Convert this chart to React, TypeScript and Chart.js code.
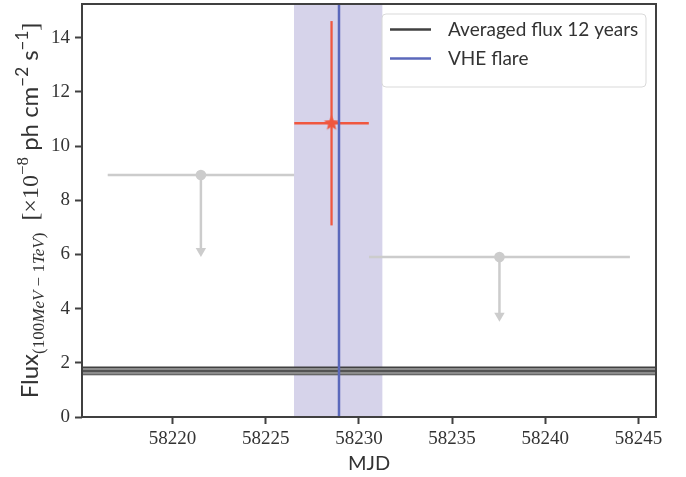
import React, { useEffect, useRef } from 'react';
import { Chart, registerables } from 'chart.js';

Chart.register(...registerables);

// ---- axes ----
const xTicks = [58220, 58225, 58230, 58235, 58240, 58245];
const yTicks = [0, 2, 4, 6, 8, 10, 12, 14];
const xRange = [58215.14, 58245.94];
const yRange = [0, 15.24];

// ---- VHE flare ----
const flareTime = 58228.93;
const flareWindow = [58226.51, 58231.27];

// ---- averaged flux (12 years) ----
const avgFlux = 1.7;
const avgFluxErr = 0.135;

// ---- detection ----
const detX = [58228.53];
const detXErr = [2.0];
const detY = [10.84];
const detYErr = [3.77];

// ---- upper limits ----
const ulX = [58221.52, 58237.54];
const ulXErr = [5.0, 7.0];
const ulY = [8.93, 5.9];
const ulArrowEnd = [6.13, 3.74];

const legendLabels = ['Averaged flux 12 years', 'VHE flare'];

const C_RED = '#f0573f';
const C_BLUE = '#5b68bb';
const C_BAND = '#d6d3ea';
const C_GRAY = '#cccccc';
const C_DARK = '#404040';
const C_TEXT = '#333333';

function makeStar(color: string, r: number) {
  const size = Math.ceil(r * 2 + 2);
  const c = document.createElement('canvas');
  c.width = size;
  c.height = size;
  const g = c.getContext('2d')!;
  g.fillStyle = color;
  g.beginPath();
  for (let i = 0; i < 10; i++) {
    const rr = i % 2 === 0 ? r : r * 0.45;
    const a = -Math.PI / 2 + (i * Math.PI) / 5;
    g.lineTo(size / 2 + rr * Math.cos(a), size / 2 + rr * Math.sin(a));
  }
  g.closePath();
  g.fill();
  return c;
}

const framePlugin = {
  id: 'frame',
  afterDraw(chart: any) {
    const { ctx, chartArea: a } = chart;
    ctx.save();
    ctx.strokeStyle = C_DARK;
    ctx.lineWidth = 2;
    ctx.strokeRect(a.left, a.top, a.right - a.left, a.bottom - a.top);
    ctx.restore();
  },
};

const yTitlePlugin = {
  id: 'yTitle',
  afterDraw(chart: any) {
    const { ctx, chartArea: a } = chart;
    const big = 24;
    const small = 17;
    const sans = 'Lato';
    const serif = '"Liberation Serif"';
    const sub = 6;
    const sup = -10;
    const runs = [
      { t: 'Flux', f: `${big}px ${sans}`, dy: 0 },
      { t: '(100', f: `${small}px ${serif}`, dy: sub },
      { t: 'MeV', f: `italic ${small}px ${serif}`, dy: sub },
      { t: ' \u2212 1', f: `${small}px ${serif}`, dy: sub },
      { t: 'TeV', f: `italic ${small}px ${serif}`, dy: sub },
      { t: ')', f: `${small}px ${serif}`, dy: sub },
      { t: '  [\u00d710', f: `${big}px ${serif}`, dy: 0 },
      { t: '\u22128', f: `${small}px ${serif}`, dy: sup },
      { t: ' ph cm', f: `${big}px ${sans}`, dy: 0 },
      { t: '\u22122', f: `${small}px ${sans}`, dy: sup },
      { t: ' s', f: `${big}px ${sans}`, dy: 0 },
      { t: '\u22121', f: `${small}px ${sans}`, dy: sup },
      { t: ']', f: `${big}px ${serif}`, dy: 0 },
    ];
    ctx.save();
    let total = 0;
    const widths = runs.map((r) => {
      ctx.font = r.f;
      const w = ctx.measureText(r.t).width;
      total += w;
      return w;
    });
    const cy = (a.top + a.bottom) / 2;
    const baseX = 38;
    ctx.translate(baseX, cy);
    ctx.rotate(-Math.PI / 2);
    ctx.fillStyle = C_TEXT;
    ctx.textBaseline = 'alphabetic';
    ctx.textAlign = 'left';
    let x = -total / 2;
    runs.forEach((r, i) => {
      ctx.font = r.f;
      ctx.fillText(r.t, x, r.dy);
      x += widths[i];
    });
    ctx.restore();
  },
};

const legendPlugin = {
  id: 'customLegend',
  afterDraw(chart: any) {
    const { ctx, chartArea: a } = chart;
    const boxW = 264;
    const boxH = 73;
    const bx = a.right - 10 - boxW;
    const by = a.top + 10;
    const r = 4;
    ctx.save();
    ctx.beginPath();
    ctx.moveTo(bx + r, by);
    ctx.arcTo(bx + boxW, by, bx + boxW, by + boxH, r);
    ctx.arcTo(bx + boxW, by + boxH, bx, by + boxH, r);
    ctx.arcTo(bx, by + boxH, bx, by, r);
    ctx.arcTo(bx, by, bx + boxW, by, r);
    ctx.closePath();
    ctx.fillStyle = 'rgba(255,255,255,0.8)';
    ctx.fill();
    ctx.strokeStyle = '#d9d9d9';
    ctx.lineWidth = 1;
    ctx.stroke();
    const colors = [C_DARK, C_BLUE];
    const rowY = [by + 15.5, by + 44.5];
    legendLabels.forEach((lab, i) => {
      ctx.beginPath();
      ctx.strokeStyle = colors[i];
      ctx.lineWidth = 2.5;
      ctx.moveTo(bx + 8, rowY[i]);
      ctx.lineTo(bx + 49, rowY[i]);
      ctx.stroke();
      ctx.fillStyle = C_TEXT;
      ctx.font = '19px Lato';
      ctx.textBaseline = 'middle';
      ctx.textAlign = 'left';
      ctx.fillText(lab, bx + 66, rowY[i]);
    });
    ctx.restore();
  },
};

function lineDs(points: { x: number; y: number }[], color: string, width: number, order: number, extra: any = {}) {
  return {
    data: points,
    showLine: true,
    borderColor: color,
    borderWidth: width,
    pointRadius: 0,
    fill: false,
    tension: 0,
    order,
    ...extra,
  };
}

export default function App() {
  const ref = useRef<HTMLCanvasElement>(null);

  useEffect(() => {
    document.body.style.margin = '0';
    const canvas = ref.current!;
    const star = makeStar(C_RED, 8);
    const datasets: any[] = [];

    // flare window band
    datasets.push(
      lineDs(
        [
          { x: flareWindow[0], y: yRange[1] },
          { x: flareWindow[1], y: yRange[1] },
        ],
        'rgba(0,0,0,0)',
        0,
        50,
        { fill: 'origin', backgroundColor: C_BAND }
      )
    );

    // upper limits
    ulX.forEach((x, i) => {
      datasets.push(
        lineDs(
          [
            { x: x - ulXErr[i], y: ulY[i] },
            { x: x + ulXErr[i], y: ulY[i] },
          ],
          C_GRAY,
          2.5,
          40
        )
      );
      datasets.push(
        lineDs(
          [
            { x, y: ulY[i] },
            { x, y: ulArrowEnd[i] },
          ],
          C_GRAY,
          2.5,
          40
        )
      );
    });
    datasets.push({
      data: ulX.map((x, i) => ({ x, y: ulArrowEnd[i] })),
      showLine: false,
      pointStyle: 'triangle',
      pointRotation: 180,
      pointRadius: 6,
      pointBackgroundColor: C_GRAY,
      pointBorderWidth: 0,
      order: 39,
    });
    datasets.push({
      data: ulX.map((x, i) => ({ x, y: ulY[i] })),
      showLine: false,
      pointStyle: 'circle',
      pointRadius: 5.3,
      pointBackgroundColor: C_GRAY,
      pointBorderWidth: 0,
      order: 38,
    });

    // averaged flux band
    const lowIdx = datasets.length;
    datasets.push(
      lineDs(
        [
          { x: xRange[0], y: avgFlux - avgFluxErr },
          { x: xRange[1], y: avgFlux - avgFluxErr },
        ],
        C_DARK,
        1.5,
        30
      )
    );
    datasets.push(
      lineDs(
        [
          { x: xRange[0], y: avgFlux + avgFluxErr },
          { x: xRange[1], y: avgFlux + avgFluxErr },
        ],
        C_DARK,
        1.5,
        29,
        { fill: { target: lowIdx }, backgroundColor: '#8c8c8c' }
      )
    );
    datasets.push(
      lineDs(
        [
          { x: xRange[0], y: avgFlux },
          { x: xRange[1], y: avgFlux },
        ],
        C_DARK,
        1.5,
        28
      )
    );

    // detection
    detX.forEach((x, i) => {
      datasets.push(
        lineDs(
          [
            { x: x - detXErr[i], y: detY[i] },
            { x: x + detXErr[i], y: detY[i] },
          ],
          C_RED,
          2.3,
          20
        )
      );
      datasets.push(
        lineDs(
          [
            { x, y: detY[i] - detYErr[i] },
            { x, y: detY[i] + detYErr[i] },
          ],
          C_RED,
          2.3,
          20
        )
      );
    });
    datasets.push({
      data: detX.map((x, i) => ({ x, y: detY[i] })),
      showLine: false,
      pointStyle: star,
      pointRadius: 7,
      order: 19,
    });

    // VHE flare line
    datasets.push(
      lineDs(
        [
          { x: flareTime, y: yRange[0] },
          { x: flareTime, y: yRange[1] },
        ],
        C_BLUE,
        2.5,
        10
      )
    );

    const tickFont = { family: '"Liberation Serif"', size: 19 };

    const chart = new Chart(canvas, {
      type: 'line',
      data: { datasets },
      options: {
        responsive: false,
        animation: false,
        devicePixelRatio: 1,
        events: [],
        layout: { autoPadding: false, padding: { top: 4, right: 30, left: 0, bottom: 0 } },
        plugins: { legend: { display: false }, tooltip: { enabled: false } },
        scales: {
          x: {
            type: 'linear',
            min: xRange[0],
            max: xRange[1],
            afterBuildTicks: (s: any) => {
              s.ticks = xTicks.map((v) => ({ value: v }));
            },
            afterFit: (s: any) => {
              s.height = 60;
              s.paddingLeft = 0;
              s.paddingRight = 0;
            },
            ticks: {
              callback: (v: any) => String(v),
              font: tickFont,
              color: C_TEXT,
              padding: 4,
              maxRotation: 0,
              autoSkip: false,
            },
            grid: {
              drawOnChartArea: false,
              drawTicks: true,
              tickLength: 7,
              tickWidth: 2,
              tickColor: C_DARK,
            },
            border: { display: false },
            title: {
              display: true,
              text: 'MJD',
              font: { family: 'Lato', size: 20 },
              color: C_TEXT,
              padding: { top: 0, bottom: 1 },
            },
          },
          y: {
            type: 'linear',
            min: yRange[0],
            max: yRange[1],
            afterBuildTicks: (s: any) => {
              s.ticks = yTicks.map((v) => ({ value: v }));
            },
            afterFit: (s: any) => {
              s.width = 82;
              s.paddingTop = 0;
              s.paddingBottom = 0;
            },
            ticks: {
              callback: (v: any) => String(v),
              font: tickFont,
              color: C_TEXT,
              padding: 5,
              autoSkip: false,
            },
            grid: {
              drawOnChartArea: false,
              drawTicks: true,
              tickLength: 7,
              tickWidth: 2,
              tickColor: C_DARK,
            },
            border: { display: false },
          },
        },
      } as any,
      plugins: [framePlugin, yTitlePlugin, legendPlugin],
    });
    return () => chart.destroy();
  }, []);

  return (
    <div style={{ width: 686, height: 477 }}>
      <canvas ref={ref} width={686} height={477} style={{ display: 'block' }} />
    </div>
  );
}
